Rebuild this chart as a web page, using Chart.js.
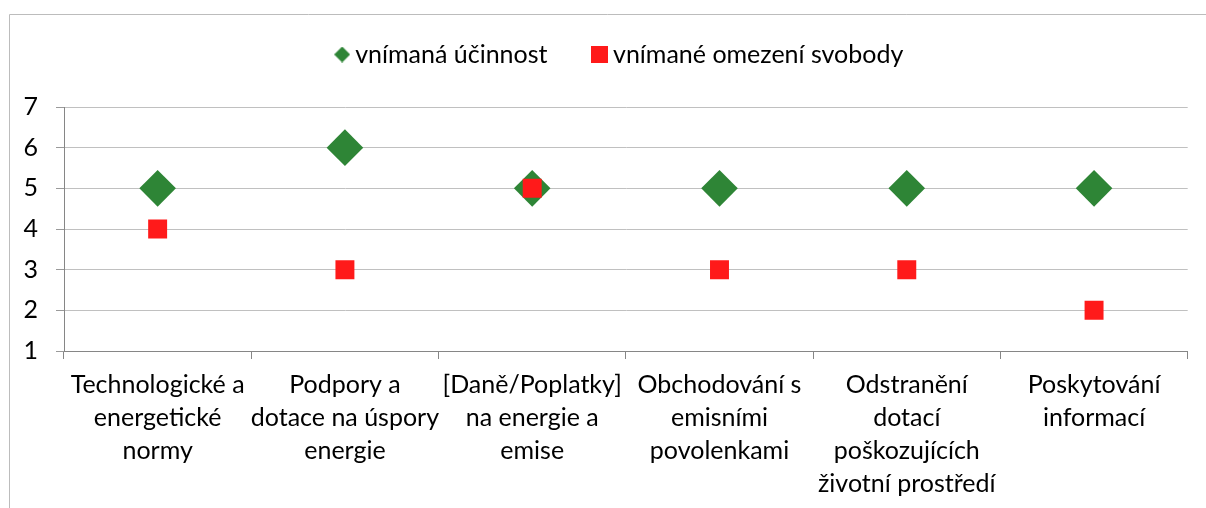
<!DOCTYPE html>
<html><head><meta charset="utf-8">
<script src="https://cdn.jsdelivr.net/npm/chart.js@4/dist/chart.umd.min.js"></script>
<style>html,body{margin:0;padding:0;background:#fff;overflow:hidden}</style>
</head><body>
<canvas id="c" width="1206" height="508"></canvas>
<script>
// ---- data ----
const categories = [
  ['Technologické a', 'energetické', 'normy'],
  ['Podpory a', 'dotace na úspory', 'energie'],
  ['[Daně/Poplatky]', 'na energie a', 'emise'],
  ['Obchodování s', 'emisními', 'povolenkami'],
  ['Odstranění', 'dotací', 'poškozujících', 'životní prostředí'],
  ['Poskytování', 'informací']
];
const seriesNames = ['vnímaná účinnost', 'vnímané omezení svobody'];
const perceivedEffectiveness = [5, 6, 5, 5, 5, 5];
const perceivedFreedomLimit = [4, 3, 5, 3, 3, 2];
const yTickValues = [1, 2, 3, 4, 5, 6, 7];

// ---- styles ----
const FONT = 'Lato';
const FSIZE = 25;
const GREEN = '#2e8536';
const RED = '#ff1a1a';

function makeIcon(kind, size, color) {
  const c = document.createElement('canvas');
  c.width = size; c.height = size;
  const g = c.getContext('2d');
  g.fillStyle = color;
  if (kind === 'diamond') {
    g.beginPath();
    g.moveTo(size / 2, 0); g.lineTo(size, size / 2); g.lineTo(size / 2, size); g.lineTo(0, size / 2);
    g.closePath(); g.fill();
  } else {
    g.fillRect(0, 0, size, size);
  }
  return c;
}
const legendIcons = [makeIcon('diamond', 16, GREEN), makeIcon('square', 17, RED)];

const frame = {
  id: 'frame',
  beforeDraw(chart) {
    const ctx = chart.ctx;
    ctx.save();
    ctx.strokeStyle = '#bcbcbc';
    ctx.lineWidth = 1;
    ctx.beginPath();
    ctx.moveTo(9.5, 508); ctx.lineTo(9.5, 14.5); ctx.lineTo(1206, 14.5);
    ctx.stroke();
    ctx.restore();
  }
};
const legendTweak = {
  id: 'legendTweak',
  beforeLayout(chart) {
    const lg = chart.legend;
    if (lg && !lg._fixed) {
      const f = lg.fit;
      lg.fit = function () { f.call(this); this.height = 117; };
      const d = lg.draw;
      lg.draw = function () {
        const ctx = this.ctx;
        ctx.save(); ctx.translate(23, 0);
        d.apply(this, arguments);
        ctx.restore();
      };
      lg._fixed = true;
    }
  }
};

new Chart(document.getElementById('c'), {
  type: 'line',
  data: {
    labels: categories,
    datasets: [
      {
        label: seriesNames[0], data: perceivedEffectiveness, showLine: false,
        pointStyle: 'rectRot', pointRadius: 18.3, pointHoverRadius: 18.3, pointBorderWidth: 0,
        backgroundColor: GREEN, borderColor: GREEN, order: 1
      },
      {
        label: seriesNames[1], data: perceivedFreedomLimit, showLine: false,
        pointStyle: 'rect', pointRadius: 13.4, pointHoverRadius: 13.4, pointBorderWidth: 0,
        backgroundColor: RED, borderColor: RED, order: 0
      }
    ]
  },
  options: {
    responsive: false,
    devicePixelRatio: 1,
    animation: false,
    layout: { padding: { top: -10, left: 10, right: 17, bottom: 0 } },
    plugins: {
      tooltip: { enabled: false },
      legend: {
        position: 'top',
        labels: {
          usePointStyle: true, boxWidth: 1, padding: 52,
          font: { family: FONT, size: FSIZE }, color: '#000',
          sort: (a, b) => a.datasetIndex - b.datasetIndex,
          generateLabels(chart) {
            const items = Chart.defaults.plugins.legend.labels.generateLabels(chart);
            items.forEach(it => { it.pointStyle = legendIcons[it.datasetIndex]; });
            return items;
          }
        }
      }
    },
    scales: {
      x: {
        type: 'category', offset: true,
        grid: { display: true, drawOnChartArea: false, drawTicks: true, tickLength: 8, color: '#868686', offset: true },
        border: { display: true, color: '#868686' },
        ticks: { font: { family: FONT, size: FSIZE, lineHeight: 33 / FSIZE }, color: '#000', padding: 9, maxRotation: 0, autoSkip: false },
        afterFit(s) { s.height = 157; }
      },
      y: {
        min: yTickValues[0], max: yTickValues[yTickValues.length - 1],
        afterBuildTicks(s) { s.ticks = yTickValues.map(v => ({ value: v })); },
        grid: { color: '#c0c0c0', tickLength: 8, tickColor: '#9a9a9a' },
        border: { display: true, color: '#868686' },
        ticks: { font: { family: FONT, size: FSIZE }, color: '#000', padding: 18 },
        afterFit(s) { s.width = 54; }
      }
    }
  },
  plugins: [frame, legendTweak]
});
</script>
</body></html>
